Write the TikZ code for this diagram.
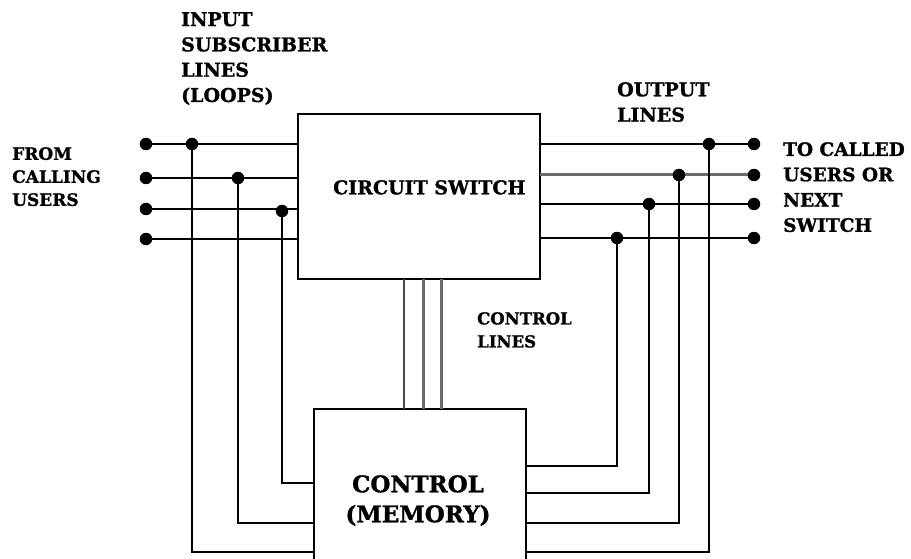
\documentclass[tikz,border=0pt]{standalone}
\usepackage{fontspec}
\setmainfont{DejaVu Serif}[BoldFeatures={FakeBold=1.2}]
\begin{document}
\begin{tikzpicture}[x=1pt,y=-1pt,
  wire/.style={line width=2.1pt,black},
  greywire/.style={line width=3pt,black!58},
  box/.style={draw,line width=2.1pt,inner sep=0pt},
  dot/.style={circle,fill=black,inner sep=0pt,minimum size=12.5pt},
  lbl/.style={inner sep=0pt,align=left,font=\bfseries\fontsize{19}{25.3}\selectfont},
]
\useasboundingbox (0,0) rectangle (911,559);
% boxes
\path[box] (298,114) rectangle (540,279);
\node[inner sep=0pt,minimum width=242pt,minimum height=165pt] (switch) at (419,196.5) {};
\path[box] (314,409) rectangle (526,570);
\node[inner sep=0pt,minimum width=212pt,minimum height=161pt] (control) at (420,489.5) {};

% input dots and junctions
\node[dot] (in1) at (146,144) {};
\node[dot] (in2) at (146,178) {};
\node[dot] (in3) at (146,209) {};
\node[dot] (in4) at (146,239) {};
\node[dot] (j1) at (192,144) {};
\node[dot] (j2) at (238,178) {};
\node[dot] (j3) at (282,211) {};
\coordinate (c1) at (314,552);
\coordinate (c2) at (314,523);
\coordinate (c3) at (314,483);

\draw[wire] (in1.center) -- (in1.center -| switch.west);
\draw[wire] (in2.center) -- (in2.center -| switch.west);
\draw[wire] (in3.center) -- (in3.center -| switch.west);
\draw[wire] (in4.center) -- (in4.center -| switch.west);
\draw[wire] (j1.center) |- (c1);
\draw[wire] (j2.center) |- (c2);
\draw[wire] (j3.center) |- (c3);

% output dots and junctions
\coordinate (d1) at (526,552);
\coordinate (d2) at (526,523);
\coordinate (d3) at (526,493);
\coordinate (d4) at (526,466);
\coordinate (o1) at (754,144);
\coordinate (o2) at (754,175);
\coordinate (o3) at (754,204);
\coordinate (o4) at (754,238);

\draw[wire] (o1 -| switch.east) -- (o1);
\draw[greywire] (o2 -| switch.east) -- (o2);
\draw[wire] (o3 -| switch.east) -- (o3);
\draw[wire] (o4 -| switch.east) -- (o4);
\draw[wire] (709,144) coordinate (k1) |- (d1);
\draw[wire] (679,175) coordinate (k2) |- (d2);
\draw[wire] (649,204) coordinate (k3) |- (d3);
\draw[wire] (617,238) coordinate (k4) |- (d4);
\node[dot] (out1) at (o1) {};
\node[dot] (out2) at (o2) {};
\node[dot] (out3) at (o3) {};
\node[dot] (out4) at (o4) {};
\node[dot] (kd1) at (k1) {};
\node[dot] (kd2) at (k2) {};
\node[dot] (kd3) at (k3) {};
\node[dot] (kd4) at (k4) {};

% control lines
\coordinate (s1) at (404,279); \coordinate (t1) at (404,409);
\coordinate (s2) at (423,279); \coordinate (t2) at (423,409);
\coordinate (s3) at (441,279); \coordinate (t3) at (441,409);
\draw[line width=2.4pt,black!72] (s1) -- (t1);
\draw[greywire] (s2) -- (t2);
\draw[greywire] (s3) -- (t3);

% labels
\node[lbl,anchor=north west] (inlbl) at (181,12) {INPUT\\SUBSCRIBER\\LINES\\(LOOPS)};
\node[lbl,anchor=north west,font=\bfseries\fontsize{17}{23}\selectfont] (fromlbl) at (12,147) {FROM\\CALLING\\USERS};
\node[lbl,anchor=north west,font=\bfseries\fontsize{19}{24}\selectfont] (swlbl) at (333,180) {CIRCUIT SWITCH};
\node[lbl,anchor=north,align=center,font=\bfseries\fontsize{23}{30}\selectfont] (ctllbl) at (418,475) {CONTROL\\(MEMORY)};
\node[lbl,anchor=north west] (outlbl) at (617,82) {OUTPUT\\LINES};
\node[lbl,anchor=north west,font=\bfseries\fontsize{18.5}{25.3}\selectfont] (tolbl) at (783,142) {TO CALLED\\USERS OR\\NEXT\\SWITCH};
\node[lbl,anchor=north west,font=\bfseries\fontsize{16.5}{23}\selectfont] (cllbl) at (477,312) {CONTROL\\LINES};
\end{tikzpicture}
\end{document}
